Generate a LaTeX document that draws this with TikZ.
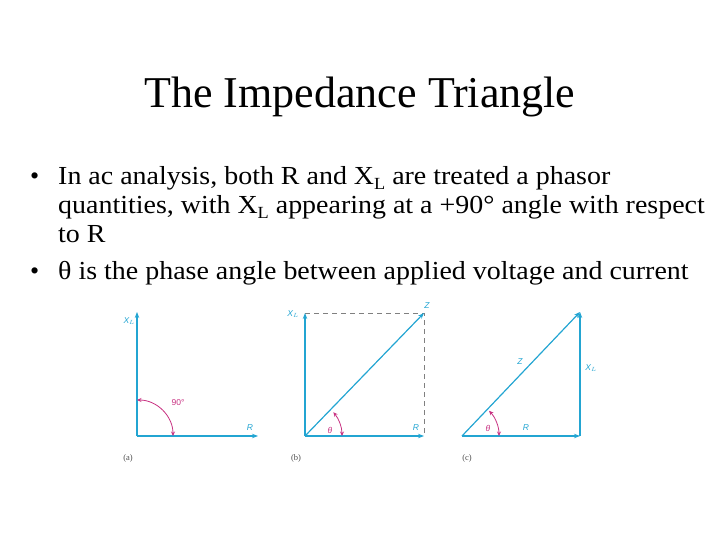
\documentclass[tikz,border=0pt]{standalone}
\usepackage{fontspec}
\setmainfont{Liberation Serif}
\newfontfamily\bodyfont[FakeStretch=1.075]{Liberation Serif}
\newfontfamily\lblfont{Liberation Sans}
\usetikzlibrary{arrows.meta,calc}
\definecolor{phcyan}{RGB}{35,165,210}
\definecolor{phmag}{RGB}{200,50,130}
\tikzset{
  phasor/.style={draw=phcyan, line width=1.2pt, -{Stealth[length=6pt,width=4.5pt]}},
  angarc/.style={draw=phmag, line width=0.8pt, {Stealth[length=4.5pt,width=4pt]}-{Stealth[length=4.5pt,width=4pt]}},
  dashln/.style={draw=gray, line width=0.8pt, dash pattern=on 5pt off 4pt},
  lbl/.style={text=phcyan, font=\lblfont\fontsize{8.5}{9}\selectfont\itshape, inner sep=0pt},
  mlbl/.style={text=phmag, font=\lblfont\fontsize{8.5}{9}\selectfont\itshape, inner sep=0pt},
  figcap/.style={text=black!70, font=\fontsize{8.5}{9}\selectfont, inner sep=0pt},
  bulletline/.style={anchor=base west, inner sep=0pt, font=\bodyfont\fontsize{26}{30}\selectfont},
}
\newcommand{\subL}{\raisebox{-0.35ex}{\fontsize{17}{19}\selectfont L}}
\begin{document}
\begin{tikzpicture}[x=1pt,y=-1pt]
\useasboundingbox (0,0) rectangle (720,540);
% title
\node[inner sep=0pt, anchor=base, font=\fontsize{44}{50}\selectfont] (title) at (360,108) {The Impedance Triangle};
% bullets
\node[bulletline, font=\fontsize{26}{30}\selectfont] (b1) at (30,185) {\textbullet};
\node[bulletline] (t1) at (58,185) {In ac analysis, both R and X\subL{} are treated a phasor};
\node[bulletline] (t2) at (58,214) {quantities, with X\subL{} appearing at a +90° angle with respect};
\node[bulletline] (t3) at (58,243) {to R};
\node[bulletline, font=\fontsize{26}{30}\selectfont] (b2) at (30,279) {\textbullet};
\node[bulletline] (t4) at (58,279) {θ is the phase angle between applied voltage and current};

% (a)
\coordinate (ao) at (137,436);
\coordinate (ay) at (137,312);
\coordinate (ax) at (258,436);
\draw[phasor] (ao) -- (ay);
\draw[phasor] (ao) -- (ax);
\draw[angarc] (137,400) arc[start angle=-90, end angle=0, radius=36];
\node[lbl, anchor=east] (axl) at (135,321) {X$_L$};
\node[lbl] (arl) at (250,428) {R};
\node[mlbl, font=\lblfont\fontsize{8.5}{9}\selectfont] (a90) at (178,403) {90°};
\node[figcap] (ca) at (128,458) {(a)};

% (b)
\coordinate (bo) at (305,436);
\coordinate (by) at (305,313);
\coordinate (bx) at (424,436);
\coordinate (bz) at (424,313);
\draw[dashln] (by) -- (bz) -- (bx);
\draw[phasor] (bo) -- (by);
\draw[phasor] (bo) -- (bx);
\draw[phasor] (bo) -- (bz);
\draw[angarc] ($(bo)+(-40:37)$) arc[start angle=-40, end angle=0, radius=37];
\node[lbl] (bxl) at (293,314) {X$_L$};
\node[lbl] (bzl) at (427,306) {Z};
\node[lbl] (brl) at (416,428) {R};
\node[mlbl] (bth) at (330,430) {θ};
\node[figcap] (cb) at (296,458) {(b)};

% (c)
\coordinate (co) at (462,436);
\coordinate (cx) at (580,436);
\coordinate (cz) at (580,312);
\draw[phasor] (co) -- (cx);
\draw[phasor] (cx) -- (cz);
\draw[phasor] (co) -- (cz);
\draw[angarc] ($(co)+(-43:37)$) arc[start angle=-43, end angle=0, radius=37];
\node[lbl] (czl) at (520,362) {Z};
\node[lbl] (cxl) at (591,368) {X$_L$};
\node[lbl] (crl) at (526,428) {R};
\node[mlbl] (cth) at (488,428) {θ};
\node[figcap] (cc) at (467,458) {(c)};
\end{tikzpicture}
\end{document}
